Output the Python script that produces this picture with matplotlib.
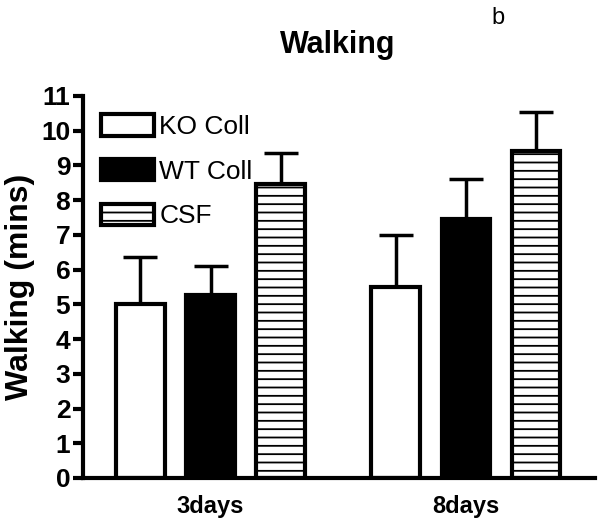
import numpy as np
import matplotlib
matplotlib.use("Agg")
import matplotlib.pyplot as plt

# Datos
groups = ["3days", "8days"]
series = ["KO Coll", "WT Coll", "CSF"]
ko_mean = [5.0, 5.5]
ko_err = [1.35, 1.5]
wt_mean = [5.27, 7.46]
wt_err = [0.82, 1.16]
csf_mean = [8.45, 9.42]
csf_err = [0.9, 1.13]

plt.rcParams["font.family"] = ["Liberation Sans", "DejaVu Sans"]
plt.rcParams["hatch.linewidth"] = 1.3
plt.rcParams["hatch.color"] = "black"

fig = plt.figure(figsize=(6, 5.27), dpi=100)
ax = fig.add_axes([0.138, 0.093, 0.854, 0.725])

x = np.arange(len(groups))
width = 0.19
offset = 0.275
lw = 3

styles = [
    dict(color="white", hatch=None),
    dict(color="black", hatch=None),
    dict(color="white", hatch="--"),
]
means = [ko_mean, wt_mean, csf_mean]
errs = [ko_err, wt_err, csf_err]

for i, (name, m, e, st) in enumerate(zip(series, means, errs, styles)):
    pos = x + (i - 1) * offset
    ax.errorbar(pos, m, yerr=[np.zeros(len(e)), e], fmt="none", ecolor="black",
                elinewidth=2.5, capsize=12, capthick=2.5, zorder=1)
    ax.bar(pos, m, width, facecolor=st["color"], edgecolor="black",
           linewidth=lw, hatch=st["hatch"], label=name, zorder=2)

ax.set_xlim(-0.5, 1.506)
ax.set_ylim(0, 11)
ax.set_yticks(range(0, 12))
ax.set_xticks(x)
ax.set_xticklabels(groups, fontsize=17, fontweight="bold")
ax.tick_params(axis="x", length=0, pad=12)
ax.tick_params(axis="y", length=7, width=3, labelsize=19, pad=2)
for lab in ax.get_yticklabels():
    lab.set_fontweight("bold")

ax.spines["top"].set_visible(False)
ax.spines["right"].set_visible(False)
ax.spines["left"].set_linewidth(3)
ax.spines["bottom"].set_linewidth(3)

ax.set_ylabel("Walking (mins)", fontsize=23, fontweight="bold", labelpad=4)
fig.text(0.563, 0.915, "Walking", fontsize=22, fontweight="bold", ha="center", va="center")
fig.text(0.83, 0.965, "b", fontsize=17, ha="center", va="center")

ax.legend(loc="upper left", bbox_to_anchor=(0.0, 1.0), frameon=False,
          fontsize=19, handlelength=2.0, handleheight=0.87,
          labelspacing=0.75, handletextpad=0.2, borderaxespad=0.3)

plt.savefig("out.png", dpi=100)
